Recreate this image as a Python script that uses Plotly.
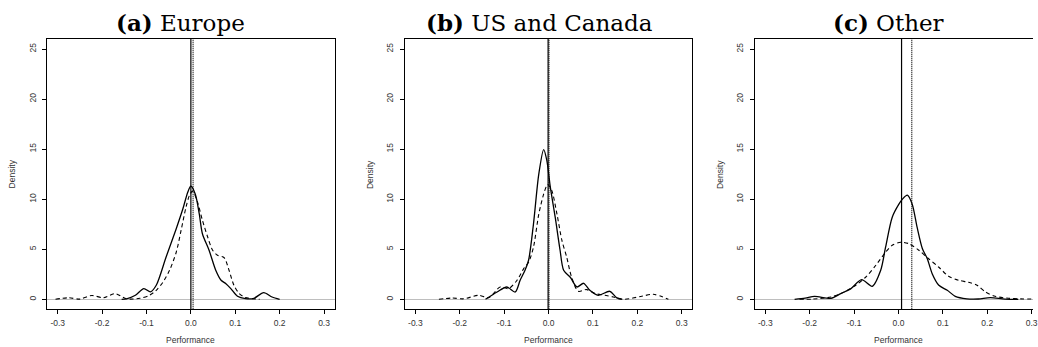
import plotly.graph_objects as go

W, H = 1038, 347

# ---------------- data ----------------
panel_titles = ["<b>(a)</b> Europe", "<b>(b)</b> US and Canada", "<b>(c)</b> Other"]

x_tick_vals = [-0.3, -0.2, -0.1, 0.0, 0.1, 0.2, 0.3]
x_tick_text = ["-0.3", "-0.2", "-0.1", "0.0", "0.1", "0.2", "0.3"]
y_tick_vals = [0, 5, 10, 15, 20, 25]
y_tick_text = ["0", "5", "10", "15", "20", "25"]

# Europe
eu_solid_x = [-0.156, -0.145, -0.125, -0.106, -0.091, -0.078, -0.056, -0.033, -0.018, -0.007, 0.0,
              0.010, 0.019, 0.026, 0.041, 0.056, 0.068, 0.079, 0.090, 0.105, 0.123, 0.142, 0.164, 0.183, 0.200]
eu_solid_y = [0.0, 0.05, 0.4, 1.07, 0.75, 1.4, 4.2, 7.05, 9.04, 10.7, 11.3,
              10.5, 8.5, 6.55, 4.9, 2.9, 1.9, 1.56, 1.07, 0.3, 0.07, 0.1, 0.67, 0.23, 0.0]
eu_dash_x = [-0.305, -0.275, -0.25, -0.223, -0.197, -0.171, -0.145, -0.115, -0.093, -0.078, -0.063,
             -0.048, -0.033, -0.022, -0.011, -0.003, 0.004, 0.015, 0.026, 0.038, 0.049, 0.060, 0.075,
             0.086, 0.097, 0.109, 0.123, 0.146, 0.155]
eu_dash_y = [0.0, 0.15, 0.02, 0.38, 0.15, 0.57, 0.05, 0.1, 0.4, 0.9, 1.7,
             2.9, 4.7, 6.9, 9.2, 10.4, 10.8, 9.7, 7.9, 6.2, 4.9, 4.4, 4.15,
             2.9, 1.4, 0.57, 0.17, 0.03, 0.0]

# US and Canada
us_solid_x = [-0.142, -0.116, -0.094, -0.075, -0.064, -0.053, -0.045, -0.034, -0.022, -0.011, -0.004,
              0.004, 0.015, 0.026, 0.034, 0.049, 0.064, 0.079, 0.093, 0.112, 0.138, 0.153, 0.165]
us_solid_y = [0.0, 0.73, 1.23, 0.73, 1.9, 2.9, 3.9, 7.5, 12.5, 14.95, 13.9,
              11.2, 8.2, 4.9, 2.9, 2.2, 1.23, 1.6, 0.9, 0.4, 0.8, 0.17, 0.0]
us_dash_x = [-0.247, -0.217, -0.191, -0.157, -0.135, -0.109, -0.090, -0.071, -0.056, -0.045, -0.034,
             -0.022, -0.011, -0.002, 0.007, 0.019, 0.030, 0.041, 0.052, 0.067, 0.086, 0.105, 0.127,
             0.146, 0.169, 0.21, 0.236, 0.27]
us_dash_y = [0.0, 0.13, 0.05, 0.4, 0.15, 1.23, 1.07, 1.9, 3.06, 3.7, 5.2,
             8.5, 10.5, 11.47, 10.9, 8.5, 5.9, 4.2, 2.2, 0.8, 0.97, 0.57, 0.4,
             0.23, 0.0, 0.3, 0.5, 0.0]

# Other
ot_solid_x = [-0.234, -0.21, -0.189, -0.152, -0.13, -0.107, -0.083, -0.059, -0.040, -0.029, -0.014,
              0.001, 0.009, 0.020, 0.031, 0.042, 0.054, 0.065, 0.076, 0.091, 0.110, 0.128, 0.154,
              0.180, 0.207, 0.240, 0.27]
ot_solid_y = [0.0, 0.12, 0.3, 0.1, 0.57, 1.07, 1.96, 1.3, 2.9, 5.2, 8.2,
              9.5, 10.0, 10.4, 9.5, 7.2, 5.05, 4.05, 2.56, 1.4, 0.9, 0.3, 0.05,
              0.03, 0.17, 0.02, 0.0]
ot_dash_x = [-0.223, -0.193, -0.152, -0.122, -0.096, -0.074, -0.051, -0.029, -0.014, 0.005, 0.024,
             0.046, 0.068, 0.091, 0.113, 0.136, 0.158, 0.177, 0.196, 0.218, 0.248, 0.275, 0.30, 0.33]
ot_dash_y = [0.0, 0.02, 0.23, 0.73, 1.4, 2.2, 3.4, 4.7, 5.4, 5.7, 5.55,
             4.9, 4.05, 3.2, 2.3, 1.9, 1.7, 1.4, 0.73, 0.3, 0.1, 0.04, 0.03, 0.02]

solid_series = [(eu_solid_x, eu_solid_y), (us_solid_x, us_solid_y), (ot_solid_x, ot_solid_y)]
dash_series = [(eu_dash_x, eu_dash_y), (us_dash_x, us_dash_y), (ot_dash_x, ot_dash_y)]

solid_means = [0.0, -0.001, 0.007]
dash_means = [0.005, 0.001, 0.030]

# ---------------- layout helpers ----------------
box_left_px = [47.3, 406.7, 758.3]
box_width_px = 289.0
box_top_px, box_bottom_px = 39.0, 309.3
title_center_px = [181.7, 541.7, 893.0]
x_range_full = [-0.324, 0.324]
y_range = [-1.0, 26.0]
txt_col = "#333"

fig = go.Figure()
layout = dict(
    width=W, height=H, margin=dict(l=0, r=0, t=0, b=0),
    paper_bgcolor="white", plot_bgcolor="white", showlegend=False,
    font=dict(family="Liberation Sans, Arial, sans-serif", size=8.5, color=txt_col),
)
annotations = []
shapes = []
for i in range(3):
    sfx = "" if i == 0 else str(i + 1)
    xa, ya = "x" + sfx, "y" + sfx
    left = box_left_px[i]
    right = min(left + box_width_px, W)
    xd = [left / W, right / W]
    upx = box_width_px / (x_range_full[1] - x_range_full[0])
    xr = [x_range_full[0], x_range_full[0] + (right - left) / upx]
    clipped = right < left + box_width_px - 0.5
    layout["xaxis" + sfx] = dict(
        domain=xd, range=xr, anchor=ya, showgrid=False, zeroline=False,
        showline=True, linecolor="black", linewidth=1, mirror=True,
        ticks="outside", ticklen=4, tickcolor="black", tickwidth=1,
        tickvals=x_tick_vals, ticktext=x_tick_text, ticklabelstandoff=1,
        ticklabeloverflow="allow",
        tickfont=dict(size=8.5, color=txt_col),
    )
    layout["yaxis" + sfx] = dict(
        domain=[1 - box_bottom_px / H, 1 - box_top_px / H], range=y_range, anchor=xa,
        showgrid=False, zeroline=True, zerolinecolor="#bebebe", zerolinewidth=1,
        showline=True, linecolor="black", linewidth=1, mirror=not clipped,
        ticks="outside", ticklen=4, tickcolor="black", tickwidth=1,
        tickvals=y_tick_vals, ticktext=y_tick_text, tickangle=-90, ticklabelstandoff=3,
        tickfont=dict(size=8.5, color=txt_col),
    )
    sx, sy = solid_series[i]
    dx, dy = dash_series[i]
    fig.add_trace(go.Scatter(x=dx, y=dy, mode="lines", xaxis=xa, yaxis=ya, hoverinfo="skip",
                             line=dict(color="black", width=1.1, dash="4px,3px", shape="spline", smoothing=0.8),
                             cliponaxis=True))
    fig.add_trace(go.Scatter(x=sx, y=sy, mode="lines", xaxis=xa, yaxis=ya, hoverinfo="skip",
                             line=dict(color="black", width=1.3, shape="spline", smoothing=0.8),
                             cliponaxis=True))
    shapes.append(dict(type="line", xref=xa, yref=ya + " domain", x0=solid_means[i], x1=solid_means[i],
                       y0=0, y1=1, line=dict(color="black", width=1.2)))
    shapes.append(dict(type="line", xref=xa, yref=ya + " domain", x0=dash_means[i], x1=dash_means[i],
                       y0=0, y1=1, line=dict(color="black", width=1.2, dash="1px,1px")))
    # titles
    annotations.append(dict(text=panel_titles[i], xref="paper", yref="paper",
                            x=title_center_px[i] / W, y=1 - 22 / H, xanchor="center", yanchor="middle",
                            showarrow=False, font=dict(family="DejaVu Serif", size=23, color="black")))
    # axis titles
    annotations.append(dict(text="Density", xref="paper", yref="paper",
                            x=(left - 35) / W, y=1 - ((box_top_px + box_bottom_px) / 2) / H,
                            xanchor="center", yanchor="middle", textangle=-90, showarrow=False,
                            font=dict(size=8.5, color=txt_col)))
    annotations.append(dict(text="Performance", xref="paper", yref="paper",
                            x=(left + box_width_px / 2) / W, y=1 - 340 / H,
                            xanchor="center", yanchor="middle", showarrow=False,
                            font=dict(size=8.5, color=txt_col)))

layout["annotations"] = annotations
layout["shapes"] = shapes
fig.update_layout(**layout)
fig.write_html("out.html", config={"displayModeBar": False, "staticPlot": True},
               post_script="document.body.style.margin='0';document.body.style.overflow='hidden';")
